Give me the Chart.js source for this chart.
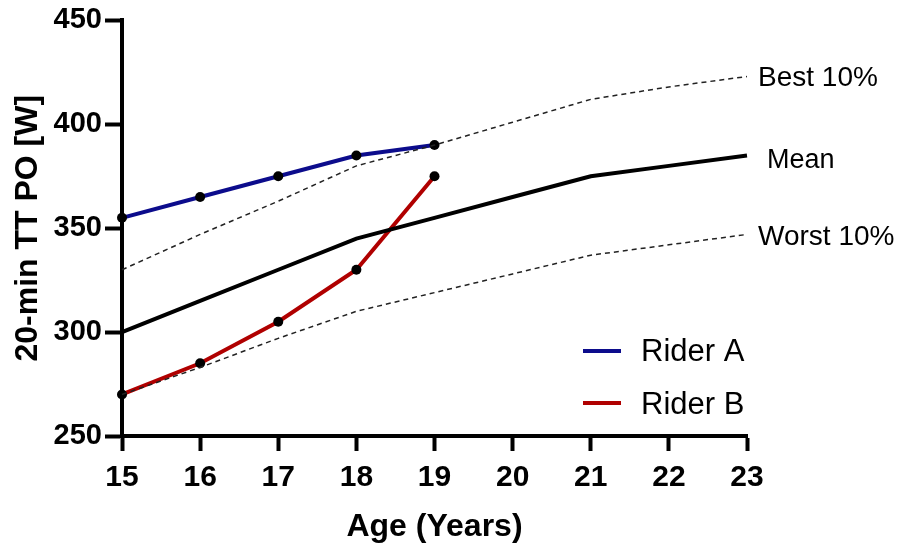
<!DOCTYPE html>
<html>
<head>
<meta charset="utf-8">
<script src="https://cdn.jsdelivr.net/npm/chart.js@4"></script>
<style>
  html, body { margin: 0; padding: 0; background: #fff; }
  #wrap { width: 901px; height: 549px; position: relative; }
</style>
</head>
<body>
<div id="wrap"><canvas id="c" width="901" height="549"></canvas></div>
<script>
const ages = [15, 16, 17, 18, 19, 20, 21, 22, 23];
const riderAges = [15, 16, 17, 18, 19];
const riderA = [355, 365, 375, 385, 390];
const riderB = [270, 285, 305, 330, 375];
const meanPO = [300, 315, 330, 345, 355, 365, 375, 380, 385];
const best10 = [330, 347, 363, 380, 390, 401, 412, 418, 423];
const worst10 = [270, 283, 297, 310, 319, 328, 337, 342, 347];
const yTicks = [250, 300, 350, 400, 450];
const xTicks = [15, 16, 17, 18, 19, 20, 21, 22, 23];

const pts = (xs, ys) => xs.map((x, i) => ({ x: x, y: ys[i] }));
const FONT = "'Liberation Sans', Arial, sans-serif";

const labelPlugin = {
  id: 'endLabels',
  afterDatasetsDraw(chart) {
    const ctx = chart.ctx;
    ctx.save();
    ctx.fillStyle = '#000';
    ctx.textBaseline = 'middle';
    ctx.textAlign = 'left';
    chart.data.datasets.forEach((ds, i) => {
      if (!ds.endLabel) return;
      const meta = chart.getDatasetMeta(i);
      const last = meta.data[meta.data.length - 1];
      ctx.font = ds.endFont + 'px ' + FONT;
      ctx.fillText(ds.endLabel, last.x + ds.endDx, last.y + ds.endDy);
    });
    // legend
    const legendItems = chart.data.datasets.filter(d => d.inLegend);
    legendItems.forEach((ds, k) => {
      const y = 351 + k * 52;
      ctx.strokeStyle = ds.borderColor;
      ctx.lineWidth = 4;
      ctx.beginPath();
      ctx.moveTo(583, y);
      ctx.lineTo(621, y);
      ctx.stroke();
      ctx.font = '31px ' + FONT;
      ctx.fillText(ds.label, 641, y + 1 + k);
    });
    ctx.restore();
  }
};

new Chart(document.getElementById('c'), {
  type: 'line',
  data: {
    datasets: [
      { label: 'Best 10%', data: pts(ages, best10), borderColor: '#222', borderWidth: 1.5, borderDash: [5, 4],
        pointRadius: 0, endLabel: 'Best 10%', endDx: 11, endDy: 2, endFont: 28 },
      { label: 'Worst 10%', data: pts(ages, worst10), borderColor: '#222', borderWidth: 1.5, borderDash: [5, 4],
        pointRadius: 0, endLabel: 'Worst 10%', endDx: 11, endDy: 3, endFont: 28 },
      { label: 'Mean', data: pts(ages, meanPO), borderColor: '#000', borderWidth: 4,
        pointRadius: 0, endLabel: 'Mean', endDx: 20, endDy: 5, endFont: 27 },
      { label: 'Rider A', data: pts(riderAges, riderA), borderColor: '#0c0c8c', borderWidth: 4,
        pointRadius: 5, pointBackgroundColor: '#000', pointBorderColor: '#000', pointBorderWidth: 0, inLegend: true },
      { label: 'Rider B', data: pts(riderAges, riderB), borderColor: '#b00000', borderWidth: 4,
        pointRadius: 5, pointBackgroundColor: '#000', pointBorderColor: '#000', pointBorderWidth: 0, inLegend: true }
    ]
  },
  options: {
    responsive: false,
    animation: false,
    clip: false,
    layout: { padding: { top: 20, right: 154, left: 0, bottom: 0 } },
    plugins: { legend: { display: false }, tooltip: { enabled: false } },
    elements: { line: { tension: 0 } },
    scales: {
      x: {
        type: 'linear', min: 15, max: 23,
        afterFit: s => { s.height = 113; },
        afterBuildTicks: s => { s.ticks = xTicks.map(v => ({ value: v })); },
        border: { display: true, color: '#000', width: 4 },
        grid: { display: true, drawOnChartArea: false, drawTicks: true, tickLength: 15, tickWidth: 4, tickColor: '#000' },
        ticks: { color: '#000', font: { family: FONT, size: 30, weight: 'bold' }, padding: 9, maxRotation: 0 },
        title: { display: true, text: 'Age (Years)', color: '#000', font: { family: FONT, size: 32, weight: 'bold' }, padding: { bottom: 3, top: 0 } }
      },
      y: {
        type: 'linear', min: 250, max: 450,
        afterFit: s => { s.width = 122; },
        afterBuildTicks: s => { s.ticks = yTicks.map(v => ({ value: v })); },
        border: { display: true, color: '#000', width: 4 },
        grid: { display: true, drawOnChartArea: false, drawTicks: true, tickLength: 17, tickWidth: 4, tickColor: '#000' },
        ticks: { color: '#000', font: { family: FONT, size: 29, weight: 'bold' }, padding: 3 },
        title: { display: true, text: '20-min TT PO [W]', color: '#000', font: { family: FONT, size: 32, weight: 'bold' }, padding: { top: 9, bottom: 0 } }
      }
    }
  },
  plugins: [labelPlugin]
});
</script>
</body>
</html>
